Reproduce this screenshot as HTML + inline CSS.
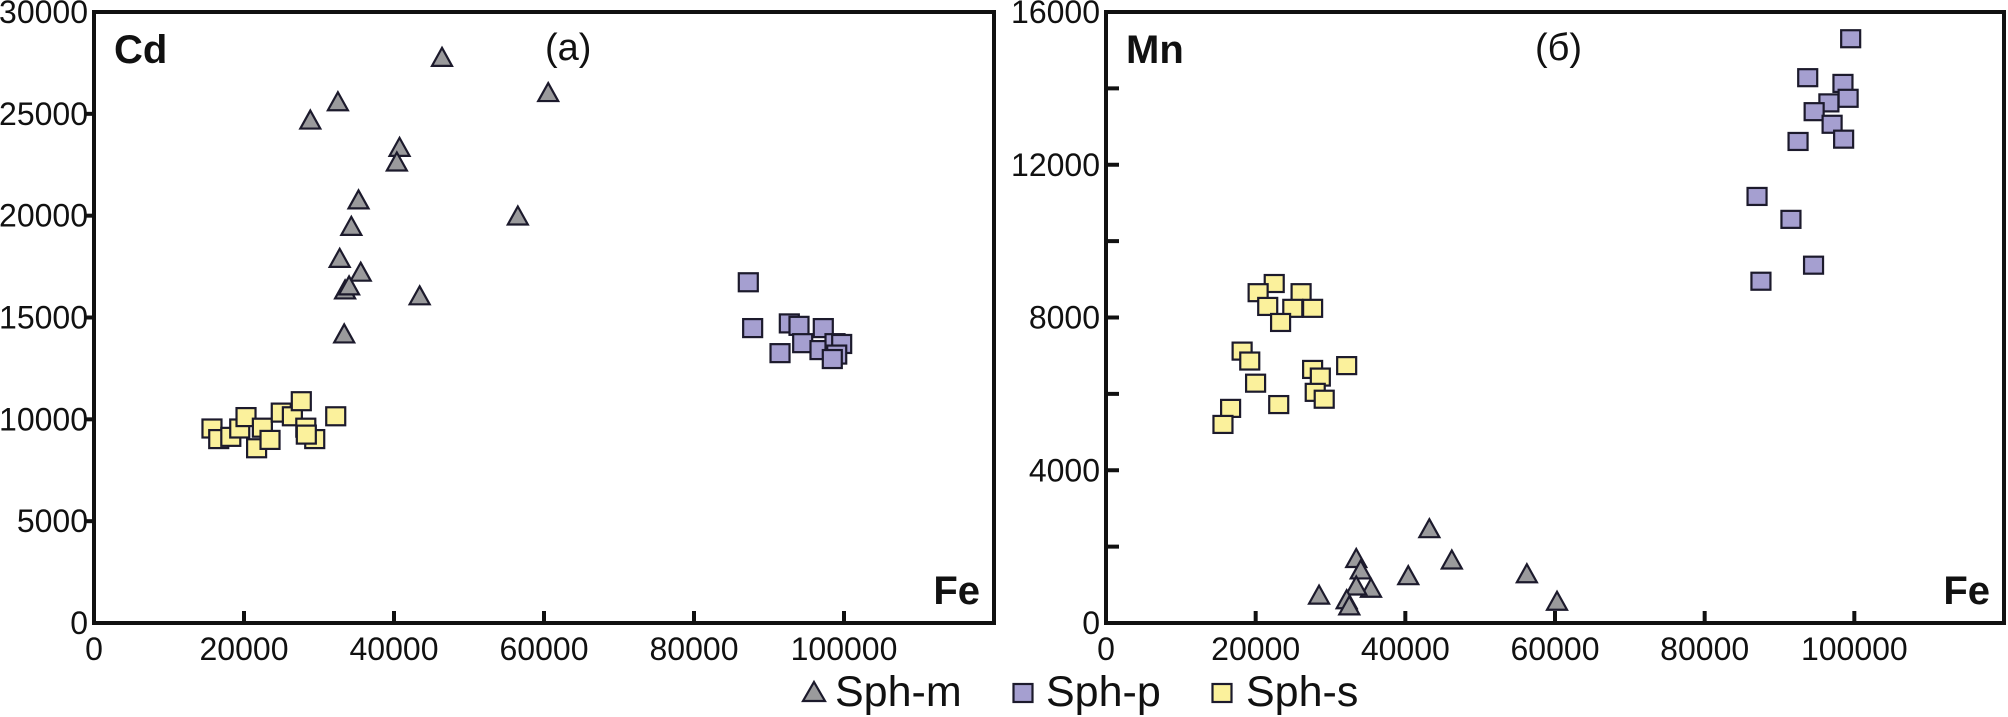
<!DOCTYPE html>
<html><head><meta charset="utf-8"><style>
html,body{margin:0;padding:0;background:#fff;width:2008px;height:717px;overflow:hidden}
svg{display:block}
text{font-family:"Liberation Sans",sans-serif;fill:#111}
</style></head><body>
<svg id="chart" width="2008" height="717" viewBox="0 0 2008 717" xmlns="http://www.w3.org/2000/svg">
<g id="panelA"></g>
<g id="panelB"></g>
<g id="legend"></g>
</svg>
<script>
// Panel (a): Cd vs Fe
const aMX=[28840,32520,46400,60560,40740,40380,35270,34310,56510,32760,35560,33480,34010,43420,33360];
const aMY=[24620,25520,27700,25970,23280,22560,20700,19400,19910,17830,17150,16280,16480,15990,14120];
const aPX=[87240,87820,91470,92710,94000,94490,97240,96800,98800,99690,99030,98440];
const aPY=[16730,14480,13250,14710,14590,13740,14480,13400,13740,13700,13180,12960];
const aSX=[15730,16630,18240,19430,20270,22450,21680,23470,24970,26450,27640,28240,29430,28310,32230];
const aSY=[9550,9030,9140,9550,10110,9590,8580,8990,10330,10150,10890,9590,9030,9250,10150];
const aYTicks=[0,5000,10000,15000,20000,25000,30000];
const xTicks=[0,20000,40000,60000,80000,100000];
// Panel (b): Mn vs Fe
const bMX=[43210,46210,33440,34040,40390,56240,35410,33440,28470,60270,32160,32510];
const bMY=[2430,1610,1650,1350,1200,1250,870,930,690,530,570,410];
const bPX=[99510,93770,98480,96600,99170,94630,97030,92480,98570,87000,91530,94550,87520];
const bPY=[15300,14280,14130,13620,13740,13390,13060,12610,12670,11170,10570,9370,8950];
const bSX=[22480,20330,26070,21610,24960,27610,23330,18190,19210,32160,27610,28640,19990,27960,29160,23080,16650,15630];
const bSY=[8890,8650,8650,8290,8240,8240,7870,7120,6860,6740,6640,6440,6280,6040,5860,5720,5620,5200];
const bYTicks=[0,2000,4000,6000,8000,10000,12000,14000,16000];
const bYLabels=["0","","4000","","8000","","12000","","16000"];

const NS="http://www.w3.org/2000/svg";
const STROKE="#1c1a2c", GRAY="#9a9a9c", PURP="#a59fd0", YEL="#fbf19c";
function mk(parent,tag,attrs,txt){const e=document.createElementNS(NS,tag);for(const k in attrs)e.setAttribute(k,attrs[k]);if(txt!==undefined)e.textContent=txt;parent.appendChild(e);return e;}

function panel(g,cfg){
  const sx=v=>cfg.x0+(v/120000)*(cfg.x1-cfg.x0);
  const sy=v=>cfg.y0-(v/cfg.ymax)*(cfg.y0-cfg.y1);
  const fr=mk(g,'rect',{x:cfg.x0,y:cfg.y1,width:cfg.x1-cfg.x0,height:cfg.y0-cfg.y1,fill:'none',stroke:'#111','stroke-width':4});
  
  
  xTicks.forEach(t=>{
    const x=sx(t);
    if(t>0){const l=mk(g,'line',{x1:x,x2:x,y1:cfg.y0,y2:cfg.y0-12,stroke:'#111','stroke-width':4});
      
      }
    const tx=mk(g,'text',{x:x,y:cfg.y0+37,'font-size':32,'text-anchor':'middle'},String(t));
    
    
  });
  cfg.yTicks.forEach((t,i)=>{
    const y=sy(t);
    if(t>0&&t<cfg.ymax){const l=mk(g,'line',{x1:cfg.x0,x2:cfg.x0+cfg.tickDir*cfg.tickLen,y1:y,y2:y,stroke:'#111','stroke-width':4});
      
      }
    const lab=cfg.yLabels?cfg.yLabels[i]:String(t);
    if(lab){const tx=mk(g,'text',{x:cfg.x0-cfg.labGap,y:y+11,'font-size':32,'text-anchor':'end'},lab);
      
      }
  });
  const series=[[cfg.mx,cfg.my,'tri',GRAY,'sph-m'],[cfg.px,cfg.py,'sq',PURP,'sph-p'],[cfg.sxv,cfg.syv,'sq',YEL,'sph-s']];
  series.forEach(([xs,ys,shape,col,nm])=>{
    xs.forEach((v,i)=>{
      const cx=sx(v), cy=sy(ys[i]); let m;
      if(shape==='sq'){m=mk(g,'rect',{x:cx-9.5,y:cy-cfg.sqh/2,width:19,height:cfg.sqh,fill:col,stroke:STROKE,'stroke-width':2.2});}
      else{m=mk(g,'polygon',{points:`${cx},${cy-11} ${cx+10},${cy+7} ${cx-10},${cy+7}`,fill:col,stroke:STROKE,'stroke-width':2.2,'stroke-linejoin':'miter'});}
      
      
    });
  });
  const t1=mk(g,'text',{x:cfg.x0+20,y:63,'font-size':40,'font-weight':'bold'},cfg.elem);
  
  
  const t2=mk(g,'text',{x:cfg.tagX,y:60,'font-size':38},cfg.tag);
  
  
  const t3=mk(g,'text',{x:cfg.x1-14,y:604,'font-size':40,'font-weight':'bold','text-anchor':'end'},'Fe');
  
  
}
panel(document.getElementById('panelA'),{x0:94,x1:994,y0:623,y1:12,ymax:30000,yTicks:aYTicks,tickDir:-1,tickLen:8,labGap:6,
  mx:aMX,my:aMY,px:aPX,py:aPY,sxv:aSX,syv:aSY,elem:'Cd',tag:'(a)',tagX:545,sqh:18});
panel(document.getElementById('panelB'),{x0:1106,x1:2004,y0:623,y1:12,ymax:16000,yTicks:bYTicks,yLabels:bYLabels,tickDir:1,tickLen:13,labGap:6,
  mx:bMX,my:bMY,px:bPX,py:bPY,sxv:bSX,syv:bSY,elem:'Mn',tag:'(б)',tagX:1535,sqh:17});

const lg=document.getElementById('legend');
const legItems=[['tri',GRAY,'Sph-m',814,835],['sq',PURP,'Sph-p',1023,1046],['sq',YEL,'Sph-s',1222,1246]];
legItems.forEach(([s,c,lab,mx,tx])=>{
  let m;
  if(s==='sq') m=mk(lg,'rect',{x:mx-9.5,y:684,width:19,height:18,fill:c,stroke:STROKE,'stroke-width':2.2});
  else m=mk(lg,'polygon',{points:`${mx},${682} ${mx+11},${701} ${mx-11},${701}`,fill:c,stroke:STROKE,'stroke-width':2.2});
  
  
  const t=mk(lg,'text',{x:tx,y:706,'font-size':43},lab);
  
  
});
</script>
</body></html>
